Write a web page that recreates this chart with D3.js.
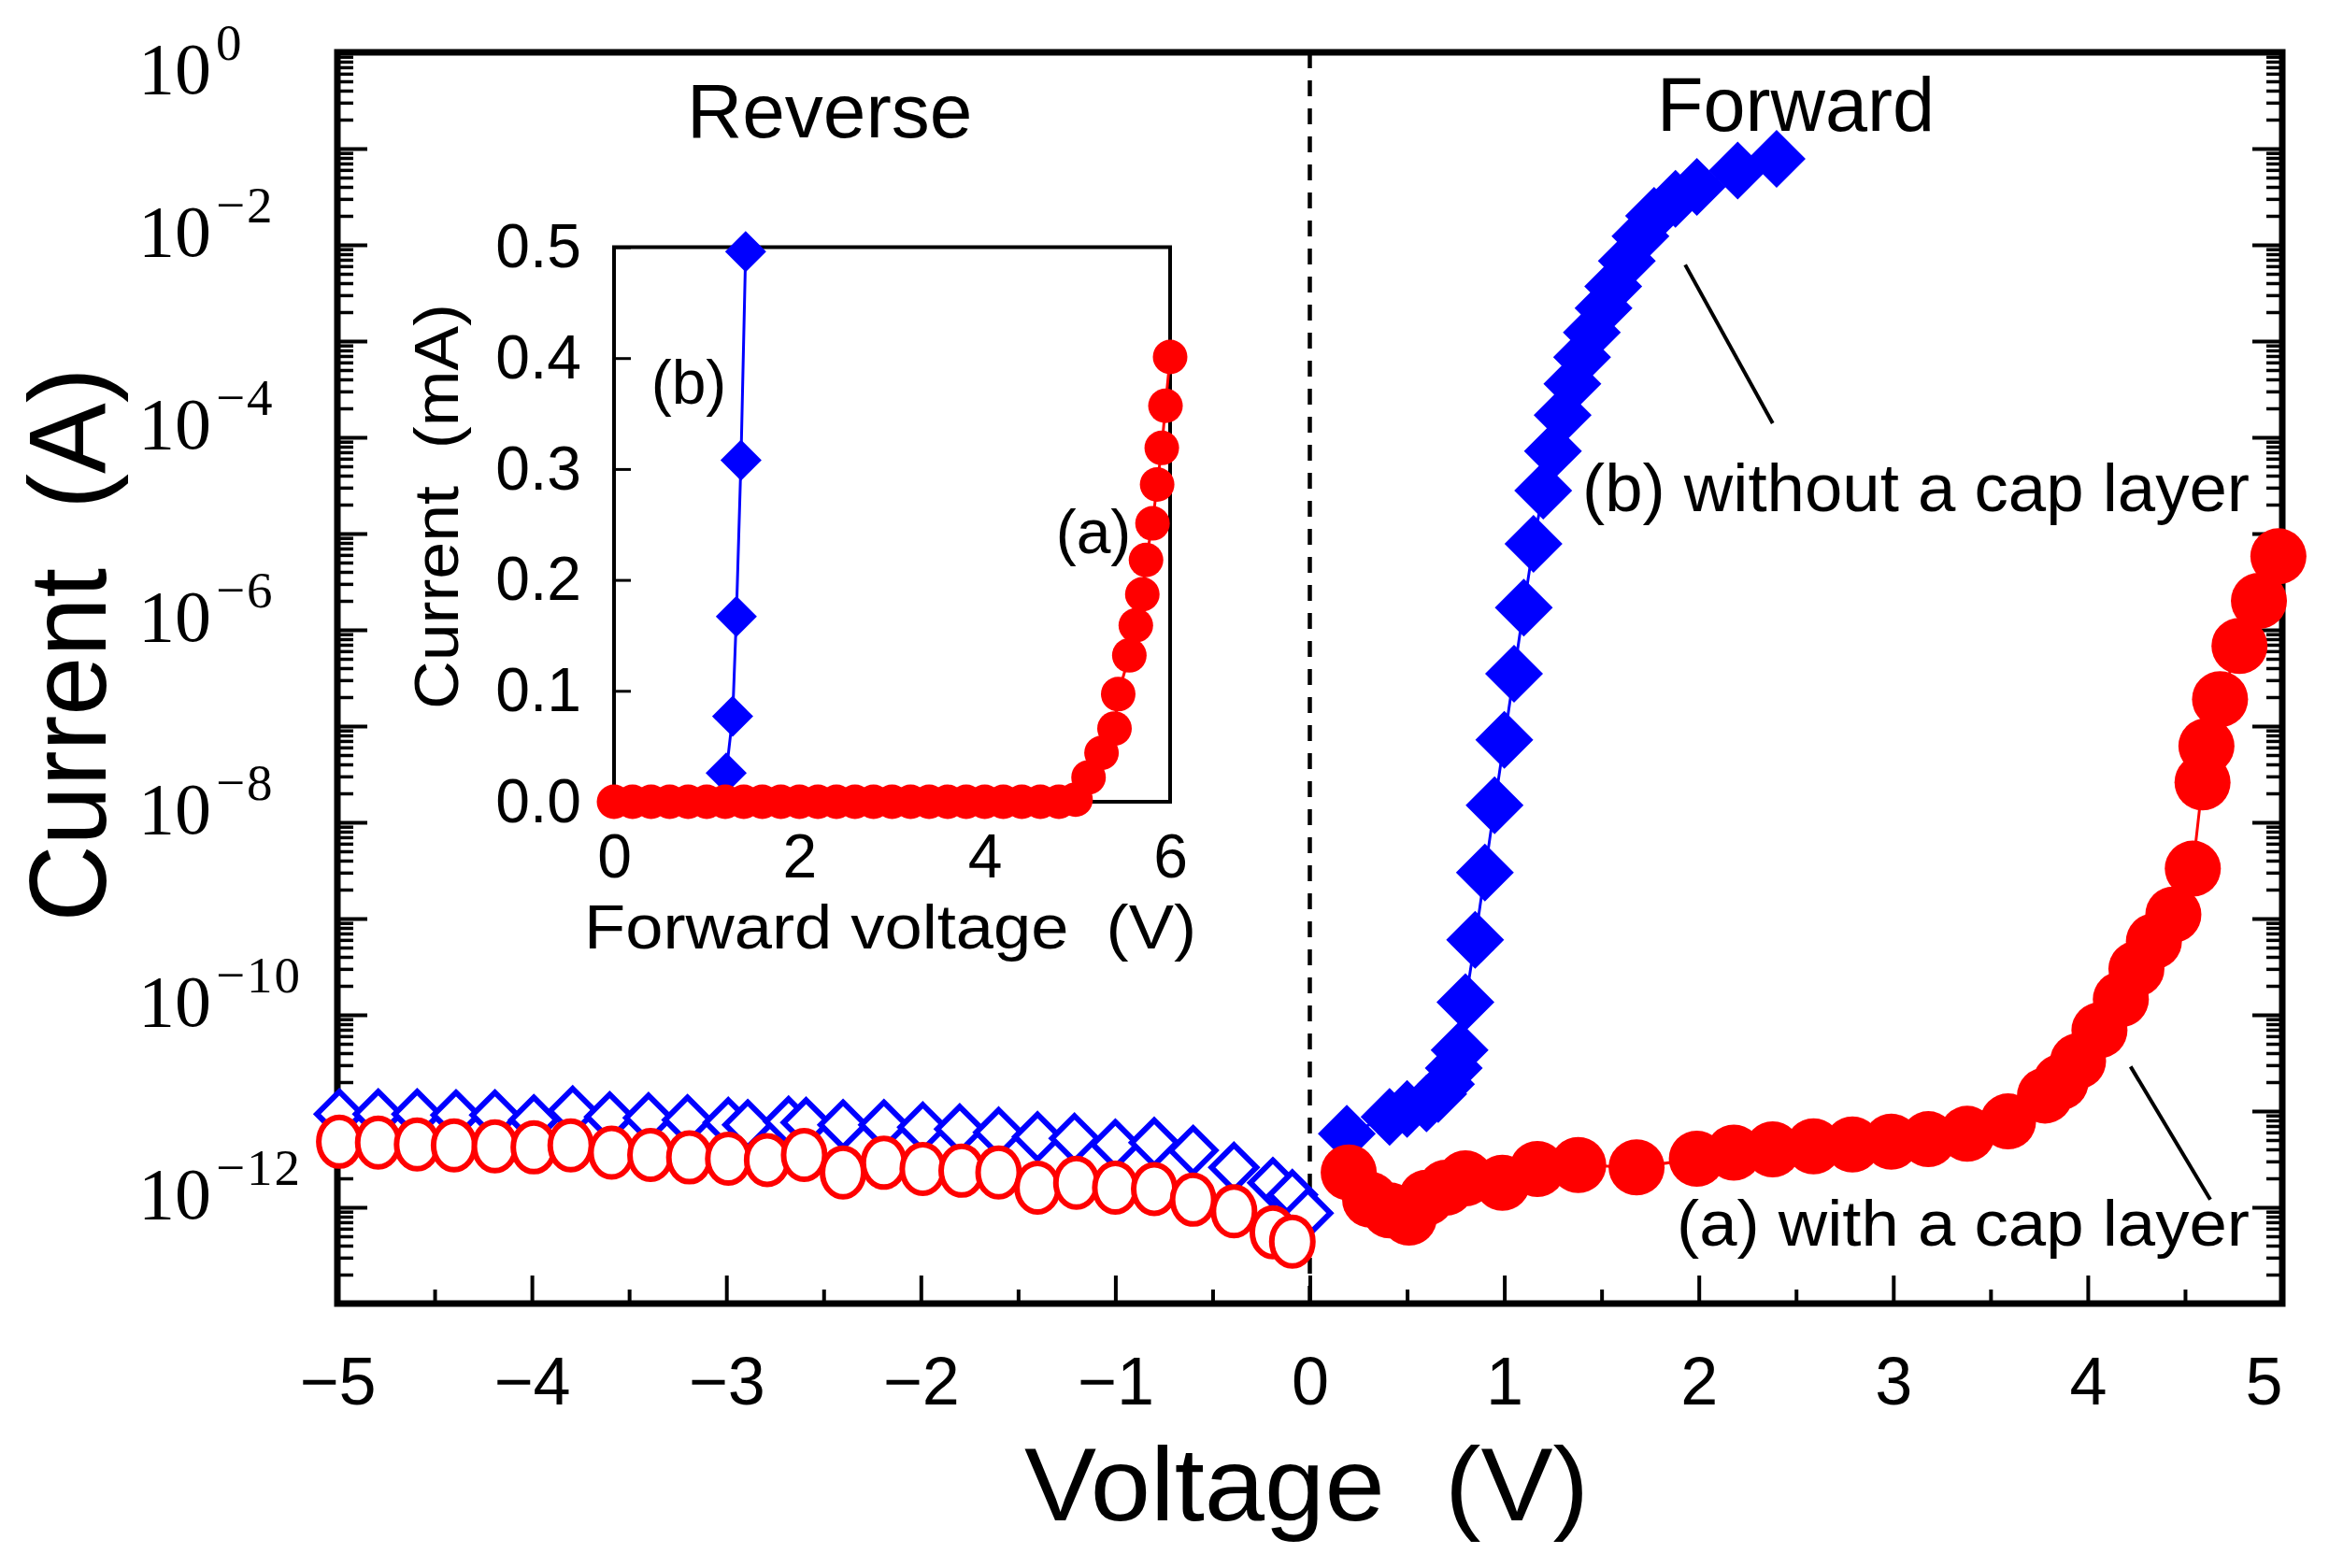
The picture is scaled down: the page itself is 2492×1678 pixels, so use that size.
<!DOCTYPE html>
<html><head><meta charset="utf-8">
<script src="https://cdn.jsdelivr.net/npm/d3@7"></script>
<style>body{margin:0;background:#fff} svg{display:block}</style>
</head><body>
<svg id="c" width="2492" height="1678"></svg>
<script>
// ---------- data ----------
// Reverse bias, (b) without a cap layer (open blue diamonds)
const revBlueV = [-4.99,-4.79,-4.59,-4.39,-4.19,-3.99,-3.79,-3.60,-3.40,-3.20,-2.99,-2.89,-2.68,-2.59,-2.40,-2.19,-1.99,-1.80,-1.60,-1.40,-1.21,-1.00,-0.80,-0.60,-0.39,-0.19,-0.09,-0.01];
const revBlueI = [9.3e-12,9.3e-12,9.3e-12,9.1e-12,9.1e-12,8.1e-12,1.0e-11,8.7e-12,8.5e-12,8.1e-12,7.6e-12,7.2e-12,7.8e-12,7.6e-12,7.2e-12,7.2e-12,6.8e-12,6.5e-12,6.0e-12,5.4e-12,5.2e-12,4.5e-12,4.7e-12,3.9e-12,2.6e-12,1.8e-12,1.35e-12,8.7e-13];
// Reverse bias, (a) with a cap layer (open red circles)
const revRedV = [-4.99,-4.79,-4.59,-4.40,-4.19,-3.99,-3.80,-3.59,-3.39,-3.19,-2.99,-2.79,-2.60,-2.40,-2.19,-1.99,-1.79,-1.60,-1.40,-1.20,-1.00,-0.80,-0.60,-0.39,-0.19,-0.09];
const revRedI = [4.8e-12,4.7e-12,4.5e-12,4.4e-12,4.3e-12,4.2e-12,4.4e-12,3.7e-12,3.5e-12,3.3e-12,3.2e-12,3.1e-12,3.5e-12,2.3e-12,2.9e-12,2.5e-12,2.4e-12,2.3e-12,1.6e-12,1.8e-12,1.6e-12,1.55e-12,1.2e-12,9.1e-13,5.5e-13,4.4e-13];
// Forward bias, (b) without a cap layer (filled blue diamonds)
const fwdBlueV = [0.19,0.41,0.50,0.60,0.66,0.70,0.74,0.77,0.80,0.85,0.90,0.95,1.00,1.05,1.10,1.15,1.20,1.25,1.30,1.35,1.40,1.45,1.51,1.56,1.63,1.70,1.77,1.88,1.99,2.20,2.40];
const fwdBlueI = [5.8e-12,8.7e-12,1.05e-11,1.2e-11,1.5e-11,1.9e-11,2.8e-11,4.3e-11,1.35e-10,6.0e-10,3.0e-9,1.5e-8,7.2e-8,3.5e-7,1.7e-6,7.8e-6,2.8e-5,7.2e-5,1.7e-4,3.6e-4,6.8e-4,1.23e-3,2.2e-3,3.7e-3,6.8e-3,1.23e-2,2.0e-2,3.0e-2,4.0e-2,5.9e-2,7.8e-2];
// Forward bias, (a) with a cap layer (filled red circles)
const fwdRedV = [0.20,0.31,0.41,0.51,0.60,0.70,0.80,0.99,1.17,1.38,1.68,1.99,2.18,2.38,2.59,2.79,2.99,3.18,3.38,3.59,3.78,3.86,3.95,4.06,4.17,4.25,4.34,4.44,4.54,4.59,4.61,4.68,4.78,4.88,4.98];
const fwdRedI = [2.3e-12,1.2e-12,9.3e-13,7.8e-13,1.26e-12,1.6e-12,2.0e-12,1.8e-12,2.5e-12,2.75e-12,2.6e-12,3.2e-12,3.7e-12,4.0e-12,4.3e-12,4.5e-12,4.8e-12,5.1e-12,5.8e-12,7.8e-12,1.45e-11,2.0e-11,3.3e-11,6.9e-11,1.45e-10,3.0e-10,5.8e-10,1.1e-9,3.3e-9,2.6e-8,6.2e-8,1.9e-7,6.8e-7,2.0e-6,5.8e-6];
// Inset (linear current, mA)
const insetBlueV = [1.21,1.28,1.32,1.37,1.42];
const insetBlueI = [0.026,0.077,0.167,0.308,0.496];
const insetRedV = [0,0.2,0.4,0.6,0.8,1.0,1.2,1.4,1.6,1.8,2.0,2.2,2.4,2.6,2.8,3.0,3.2,3.4,3.6,3.8,4.0,4.2,4.4,4.6,4.8,4.98,5.12,5.26,5.40,5.44,5.56,5.63,5.70,5.74,5.81,5.86,5.91,5.95,6.0];
const insetRedI = [0,0,0,0,0,0,0,0,0,0,0,0,0,0,0,0,0,0,0,0,0,0,0,0,0,0.002,0.022,0.044,0.066,0.097,0.132,0.159,0.187,0.218,0.251,0.286,0.319,0.357,0.401];
// tick labels
const xTickVals = [-5,-4,-3,-2,-1,0,1,2,3,4,5];
const xTickLabels = ["\u22125","\u22124","\u22123","\u22122","\u22121","0","1","2","3","4","5"];
const xMinorVals = [-4.5,-3.5,-2.5,-1.5,-0.5,0.5,1.5,2.5,3.5,4.5];
const yLabelExps = [0,-2,-4,-6,-8,-10,-12];
const yLabelSup = ["0","\u22122","\u22124","\u22126","\u22128","\u221210","\u221212"];
const insetXTicks = [0,2,4,6];
const insetYTicks = [0,0.1,0.2,0.3,0.4,0.5];
// annotation leader lines (data coordinates)
const leaderB = [[1.93,6.2e-3],[2.38,1.4e-4]];
const leaderA = [[4.22,2.9e-11],[4.63,1.2e-12]];

// ---------- drawing ----------
const svg = d3.select('#c');
svg.append('rect').attr('width',2492).attr('height',1678).attr('fill','#fff');
const SANS = "'Liberation Sans', Arial, sans-serif";
const NARROW = "'Liberation Sans Narrow', 'Liberation Sans', sans-serif";
const SERIF = "'Liberation Serif', 'Times New Roman', serif";
const BLUE = '#0000ff', RED = '#ff0000';

const x = d3.scaleLinear().domain([-5,5]).range([361,2442]);
const y = d3.scaleLog().domain([1e-13,1]).range([1395,56]);
const [X0,X1] = x.range(), [Y0,Y1] = [y(1e-13), y(1)];

// ticks
const decades = d3.range(-13,1).map(k=>Math.pow(10,k));
const minors = [];
d3.range(-13,0).forEach(k=>{for(let m=2;m<=9;m++) minors.push(m*Math.pow(10,k));});

function styleAxis(g, w){ g.select('.domain').remove(); g.selectAll('.tick line').attr('stroke','#000').attr('stroke-width',w); }

svg.append('g').attr('transform',`translate(0,${Y0})`)
  .call(d3.axisBottom(x).tickValues(xTickVals).tickSize(-30).tickFormat('')).call(g=>styleAxis(g,4));
svg.append('g').attr('transform',`translate(0,${Y0})`)
  .call(d3.axisBottom(x).tickValues(xMinorVals).tickSize(-15).tickFormat('')).call(g=>styleAxis(g,4));
svg.append('g').attr('transform',`translate(${X0},0)`)
  .call(d3.axisLeft(y).tickValues(decades).tickSize(-32).tickFormat('')).call(g=>styleAxis(g,4));
svg.append('g').attr('transform',`translate(${X0},0)`)
  .call(d3.axisLeft(y).tickValues(minors).tickSize(-17).tickFormat('')).call(g=>styleAxis(g,3.5));
svg.append('g').attr('transform',`translate(${X1},0)`)
  .call(d3.axisRight(y).tickValues(decades).tickSize(-32).tickFormat('')).call(g=>styleAxis(g,4));
svg.append('g').attr('transform',`translate(${X1},0)`)
  .call(d3.axisRight(y).tickValues(minors).tickSize(-17).tickFormat('')).call(g=>styleAxis(g,3.5));

// x tick labels
svg.append('g').attr('transform',`translate(0,${Y0})`)
  .call(d3.axisBottom(x).tickValues(xTickVals).tickSize(0).tickPadding(57)
    .tickFormat((d,i)=>xTickLabels[i]))
  .call(g=>{g.select('.domain').remove();
    g.selectAll('text').attr('font-family',NARROW).attr('font-size',72).attr('fill','#000')
      .attr('dx',d=>d===5?-20:0);});

// y tick labels with superscripts
const yl = svg.append('g');
yLabelExps.forEach((e,i)=>{
  const ty = y(Math.pow(10,e));
  const t = yl.append('text').attr('x',148).attr('y',Math.max(ty+12,100))
    .attr('font-family',SERIF).attr('font-size',78).attr('fill','#000').text('10');
  t.append('tspan').attr('dx',5).attr('dy',-36).attr('font-size',55).attr('letter-spacing',2).text(yLabelSup[i]);
});

// frame
svg.append('rect').attr('x',X0).attr('y',Y1).attr('width',X1-X0).attr('height',Y0-Y1)
  .attr('fill','none').attr('stroke','#000').attr('stroke-width',7);

// dashed zero line
svg.append('line').attr('x1',x(0)).attr('x2',x(0)).attr('y1',Y1).attr('y2',Y0)
  .attr('stroke','#000').attr('stroke-width',4.5).attr('stroke-dasharray','17,13');

// axis titles
svg.append('text').attr('x',1096).attr('y',1627).attr('font-family',SANS).attr('font-size',112)
  .attr('textLength',604).attr('lengthAdjust','spacingAndGlyphs').attr('fill','#000')
  .attr('xml:space','preserve').text('Voltage  (V)');
svg.append('text').attr('transform','translate(113,690) rotate(-90)').attr('text-anchor','middle')
  .attr('font-family',SANS).attr('font-size',116).attr('textLength',593).attr('lengthAdjust','spacingAndGlyphs')
  .attr('fill','#000').attr('xml:space','preserve').text('Current  (A)');

// region labels
svg.append('text').attr('x',735).attr('y',147).attr('font-family',SANS).attr('font-size',82).attr('fill','#000').text('Reverse');
svg.append('text').attr('x',1773).attr('y',140).attr('font-family',SANS).attr('font-size',81).attr('fill','#000').text('Forward');

const diamond = r => `M0,${-r}L${r},0L0,${r}L${-r},0Z`;

// reverse markers
const revB = revBlueV.map((v,i)=>({v,i:revBlueI[i]}));
const revR = revRedV.map((v,i)=>({v,i:revRedI[i]}));
svg.append('g').selectAll('path').data(revB).join('path')
  .attr('d',diamond(24)).attr('transform',d=>`translate(${x(d.v)},${y(d.i)})`)
  .attr('fill','#fff').attr('stroke',BLUE).attr('stroke-width',6).attr('stroke-linejoin','miter');
svg.append('g').selectAll('ellipse').data(revR).join('ellipse')
  .attr('cx',d=>x(d.v)).attr('cy',d=>y(d.i)).attr('rx',22).attr('ry',26)
  .attr('fill','#fff').attr('stroke',RED).attr('stroke-width',6);

// forward series
const fB = fwdBlueV.map((v,i)=>({v,i:fwdBlueI[i]}));
const fR = fwdRedV.map((v,i)=>({v,i:fwdRedI[i]}));
const lineF = d3.line().x(d=>x(d.v)).y(d=>y(d.i));
svg.append('path').datum(fB).attr('d',lineF).attr('fill','none').attr('stroke',BLUE).attr('stroke-width',3);
svg.append('g').selectAll('path').data(fB).join('path')
  .attr('d',diamond(31)).attr('transform',d=>`translate(${x(d.v)},${y(d.i)})`).attr('fill',BLUE);
svg.append('path').datum(fR).attr('d',lineF).attr('fill','none').attr('stroke',RED).attr('stroke-width',3);
svg.append('g').selectAll('circle').data(fR).join('circle')
  .attr('cx',d=>x(d.v)).attr('cy',d=>y(d.i)).attr('r',30).attr('fill',RED);

// annotations
[leaderB,leaderA].forEach(L=>{
  svg.append('line').attr('x1',x(L[0][0])).attr('y1',y(L[0][1])).attr('x2',x(L[1][0])).attr('y2',y(L[1][1]))
    .attr('stroke','#000').attr('stroke-width',4);
});
svg.append('text').attr('x',1693).attr('y',547).attr('font-family',SANS).attr('font-size',72)
  .attr('textLength',714).attr('lengthAdjust','spacingAndGlyphs').attr('fill','#000').text('(b) without a cap layer');
svg.append('text').attr('x',1794).attr('y',1333).attr('font-family',SANS).attr('font-size',68)
  .attr('textLength',613).attr('lengthAdjust','spacingAndGlyphs').attr('fill','#000').text('(a) with a cap layer');

// ---------- inset ----------
const xi = d3.scaleLinear().domain([0,6]).range([657,1252]);
const yi = d3.scaleLinear().domain([0,0.5]).range([858,264.5]);
const ins = svg.append('g');
ins.append('rect').attr('x',xi(0)).attr('y',yi(0.5)).attr('width',xi(6)-xi(0)).attr('height',yi(0)-yi(0.5))
  .attr('fill','#fff').attr('stroke','#000').attr('stroke-width',4);
ins.append('g').attr('transform',`translate(${xi(0)},0)`)
  .call(d3.axisLeft(yi).tickValues(insetYTicks).tickSize(-18).tickPadding(35).tickFormat(d3.format('.1f')))
  .call(g=>{g.select('.domain').remove(); g.selectAll('.tick line').attr('stroke','#000').attr('stroke-width',3);
    g.selectAll('text').attr('font-family',SANS).attr('font-size',66).attr('fill','#000');});
ins.append('g').attr('transform',`translate(0,${yi(0)})`)
  .call(d3.axisBottom(xi).tickValues(insetXTicks).tickSize(0).tickPadding(34).tickFormat(d3.format('d')))
  .call(g=>{g.select('.domain').remove();
    g.selectAll('text').attr('font-family',SANS).attr('font-size',66).attr('fill','#000');});
ins.append('text').attr('x',625).attr('y',1015).attr('font-family',SANS).attr('font-size',66)
  .attr('textLength',655).attr('lengthAdjust','spacingAndGlyphs').attr('fill','#000')
  .attr('xml:space','preserve').text('Forward voltage  (V)');
ins.append('text').attr('transform','translate(490,542) rotate(-90)').attr('text-anchor','middle')
  .attr('font-family',SANS).attr('font-size',66).attr('textLength',434).attr('lengthAdjust','spacingAndGlyphs')
  .attr('fill','#000').attr('xml:space','preserve').text('Current  (mA)');
const iB = insetBlueV.map((v,i)=>({v,i:insetBlueI[i]}));
const iR = insetRedV.map((v,i)=>({v,i:insetRedI[i]}));
const lineI = d3.line().x(d=>xi(d.v)).y(d=>yi(d.i));
ins.append('path').datum(iB).attr('d',lineI).attr('fill','none').attr('stroke',BLUE).attr('stroke-width',3);
ins.append('g').selectAll('path').data(iB).join('path')
  .attr('d',diamond(22)).attr('transform',d=>`translate(${xi(d.v)},${yi(d.i)})`).attr('fill',BLUE);
ins.append('path').datum(iR).attr('d',lineI).attr('fill','none').attr('stroke',RED).attr('stroke-width',3);
ins.append('g').selectAll('circle').data(iR).join('circle')
  .attr('cx',d=>xi(d.v)).attr('cy',d=>yi(d.i)).attr('r',18.5).attr('fill',RED);
ins.append('text').attr('x',737).attr('y',432).attr('text-anchor','middle').attr('font-family',SANS)
  .attr('font-size',66).attr('fill','#000').text('(b)');
ins.append('text').attr('x',1170).attr('y',592).attr('text-anchor','middle').attr('font-family',SANS)
  .attr('font-size',66).attr('fill','#000').text('(a)');
</script>
</body></html>
